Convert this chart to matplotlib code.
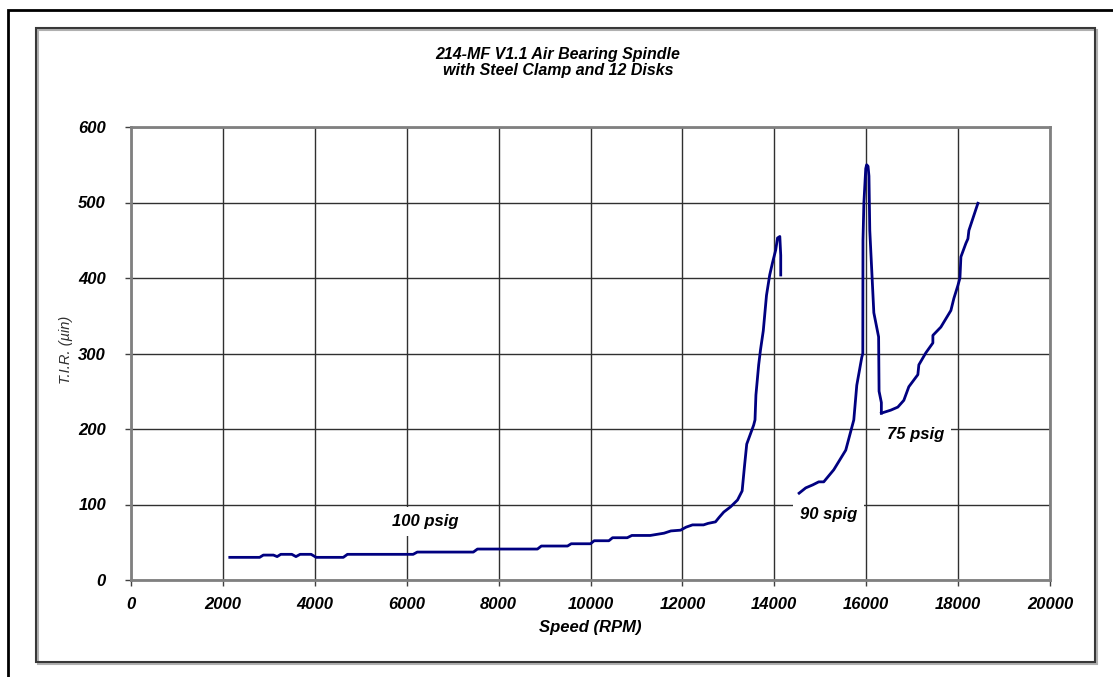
# %% ==========================================================================
# Import and Definitions
# =============================================================================
import matplotlib
matplotlib.use("Agg")
import matplotlib.pyplot as plt
from matplotlib.patches import Rectangle
import numpy as np

plt.rcParams['font.family'] = ['Liberation Sans', 'DejaVu Sans']

# %% ==========================================================================
# Data
# =============================================================================
rpm_100 = [2150, 2800, 2880, 3100, 3180, 3260, 3500, 3590, 3680, 3920, 4030,
           4620, 4710, 6140, 6230, 7450, 7540, 8845, 8930, 9500, 9580, 10000,
           10080, 10400, 10480, 10800, 10900, 11300, 11600, 11750, 11960,
           12080, 12220, 12460, 12560, 12720, 12800, 12900, 13050, 13200,
           13300, 13350, 13400, 13550, 13580, 13600, 13660, 13700, 13760,
           13830, 13900, 13960, 14030, 14070, 14120, 14140, 14140]
tir_100 = [30, 30, 33, 33, 31, 34, 34, 31, 34, 34, 30,
           30, 34, 34, 37, 37, 41, 41, 45, 45, 48, 48,
           52, 52, 56, 56, 59, 59, 62, 65, 66,
           70, 73, 73, 75, 77, 83, 90, 97, 106,
           118, 150, 180, 205, 212, 245, 285, 305, 330,
           377, 404, 420, 437, 453, 455, 430, 404]

rpm_90 = [14540, 14684, 14837, 14967, 15076, 15294, 15555, 15730, 15795,
          15904, 15926, 15930, 15950, 15990, 16010, 16040, 16060, 16078,
          16166, 16270, 16280, 16330, 16330]
tir_90 = [115, 122, 126, 130, 130, 146, 172, 212, 258,
          295, 300, 450, 500, 545, 550, 548, 535, 463,
          354, 322, 250, 235, 221]

rpm_75 = [16330, 16536, 16688, 16819, 16928, 17124, 17146, 17299, 17451,
          17451, 17625, 17843, 17908, 17995, 18040, 18061, 18170, 18214,
          18235, 18431]
tir_75 = [221, 225, 229, 238, 256, 272, 285, 301, 314,
          324, 335, 357, 373, 390, 400, 428, 446, 452,
          463, 499]

labels = ["100 psig", "90 spig", "75 psig"]
label_pos = [(6400, 78), (15180, 87), (17080, 193)]

title_lines = ["214-MF V1.1 Air Bearing Spindle", "with Steel Clamp and 12 Disks"]
x_ticks = np.arange(0, 20001, 2000)
y_ticks = np.arange(0, 601, 100)

# %% ==========================================================================
# Plot
# =============================================================================
W, H = 1113, 677
fig = plt.figure(figsize=(W / 100, H / 100), dpi=100)
fig.patch.set_facecolor('white')

# frames around the chart
fig.add_artist(Rectangle((8 / W, -0.1), 1.2, 1 - 10 / H + 0.1,
                         transform=fig.transFigure, fill=False,
                         edgecolor='black', lw=2))
fig.add_artist(Rectangle((38 / W, 1 - 664 / H), 1059 / W, 634 / H,
                         transform=fig.transFigure, fill=False,
                         edgecolor='#b0b0b0', lw=1.5))
fig.add_artist(Rectangle((36 / W, 1 - 662 / H), 1059 / W, 634 / H,
                         transform=fig.transFigure, fill=False,
                         edgecolor='#383838', lw=1.5))

ax = fig.add_axes([131 / W, 1 - 580 / H, 919 / W, 453 / H])
ax.plot(rpm_100, tir_100, color='#000080', lw=2)
ax.plot(rpm_90, tir_90, color='#000080', lw=2)
ax.plot(rpm_75, tir_75, color='#000080', lw=2)

for txt, (xp, yp) in zip(labels, label_pos):
    ax.text(xp, yp, txt, ha='center', va='center', fontsize=12,
            fontweight='bold', fontstyle='italic',
            bbox=dict(facecolor='white', edgecolor='none', pad=5))

ax.set_xlim(0, 20000)
ax.set_ylim(0, 600)
ax.set_xticks(x_ticks)
ax.set_yticks(y_ticks)
ax.grid(True, color='#303030', lw=1)
ax.set_axisbelow(True)
for sp in ax.spines.values():
    sp.set_color('#808080')
    sp.set_linewidth(2)
ax.tick_params(axis='both', direction='out', length=4, width=1,
               color='#404040', labelsize=12)
for tick in ax.get_xticklabels() + ax.get_yticklabels():
    tick.set_fontweight('bold')
    tick.set_fontstyle('italic')
ax.tick_params(axis='x', pad=8)
ax.tick_params(axis='y', pad=14)

ax.set_xlabel('Speed (RPM)', fontsize=12, fontweight='bold',
              fontstyle='italic', labelpad=6)
fig.text(66 / W, 1 - 350 / H, 'T.I.R. (µin)', rotation=90, ha='center',
         va='center', fontsize=10.5, fontstyle='italic', color='#303030')
for i, line in enumerate(title_lines):
    fig.text(558 / W, 1 - (55 + 16 * i) / H, line, ha='center', va='center',
             fontsize=11.5, fontweight='bold', fontstyle='italic')

fig.savefig('out.png', dpi=100)
